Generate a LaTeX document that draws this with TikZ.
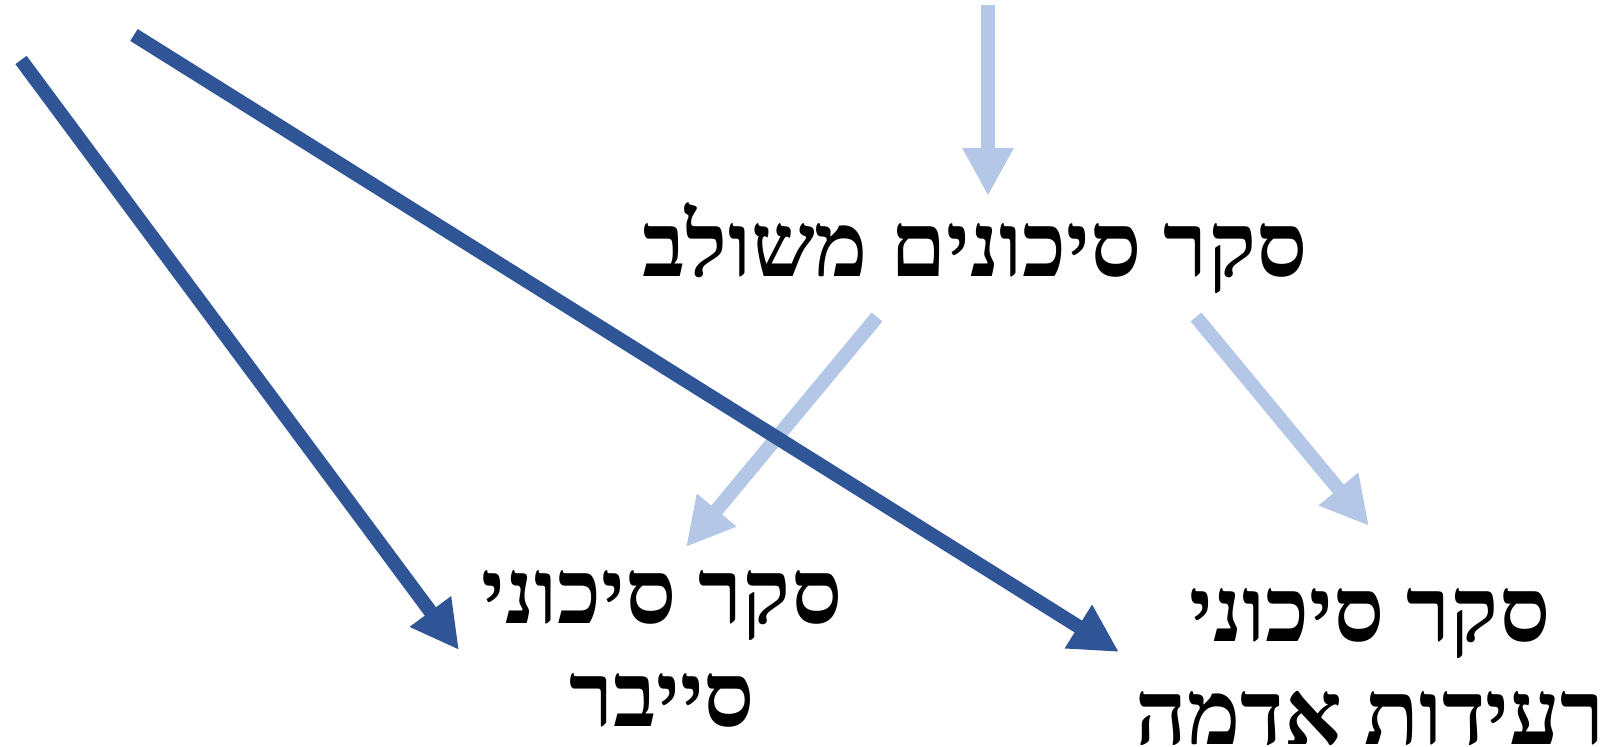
\documentclass[tikz,border=0pt]{standalone}
\usepackage{fontspec}
\usetikzlibrary{arrows.meta}
\newfontfamily\hebfont[Script=Hebrew]{Liberation Serif}
\TeXXeTstate=1
\definecolor{lightblue}{HTML}{B4C7E7}
\definecolor{darkblue}{HTML}{2F5597}

\begin{document}
\begin{tikzpicture}[
  x=0.5pt, y=-0.5pt,
  light/.style={draw=lightblue, line width=7pt, -{Triangle[length=24pt,width=24pt]}},
  dark/.style={draw=darkblue, line width=7pt, -{Triangle[length=24pt,width=24pt]}},
  every node/.style={align=center, inner sep=0pt, font=\hebfont\bfseries\fontsize{45}{51.5}\selectfont}
]
\useasboundingbox (0,0) rectangle (1617,747);

\node[anchor=base] (combined) at (975,277) {\beginR סקר סיכונים משולב\endR};
\node[anchor=base] (cyber) at (662,727) {\beginR סקר סיכוני\endR\\\beginR סייבר\endR};
\node[anchor=base] (quake) at (1370,745) {\beginR סקר סיכוני\endR\\\beginR רעידות אדמה\endR};

\coordinate (in) at (988,5);
\coordinate (outL) at (877,317);
\coordinate (outR) at (1196,317);
\coordinate (cyberTip) at (686,547);
\coordinate (quakeTip) at (1369,526);
\coordinate (srcA) at (21,60);
\coordinate (srcB) at (134,35);
\coordinate (cyberIn) at (459,650);
\coordinate (quakeIn) at (1119,652);

\draw[light] (in) -- (988,196);
\draw[light] (outL) -- (cyberTip);
\draw[light] (outR) -- (quakeTip);
\draw[dark] (srcA) -- (cyberIn);
\draw[dark] (srcB) -- (quakeIn);
\end{tikzpicture}
\end{document}
